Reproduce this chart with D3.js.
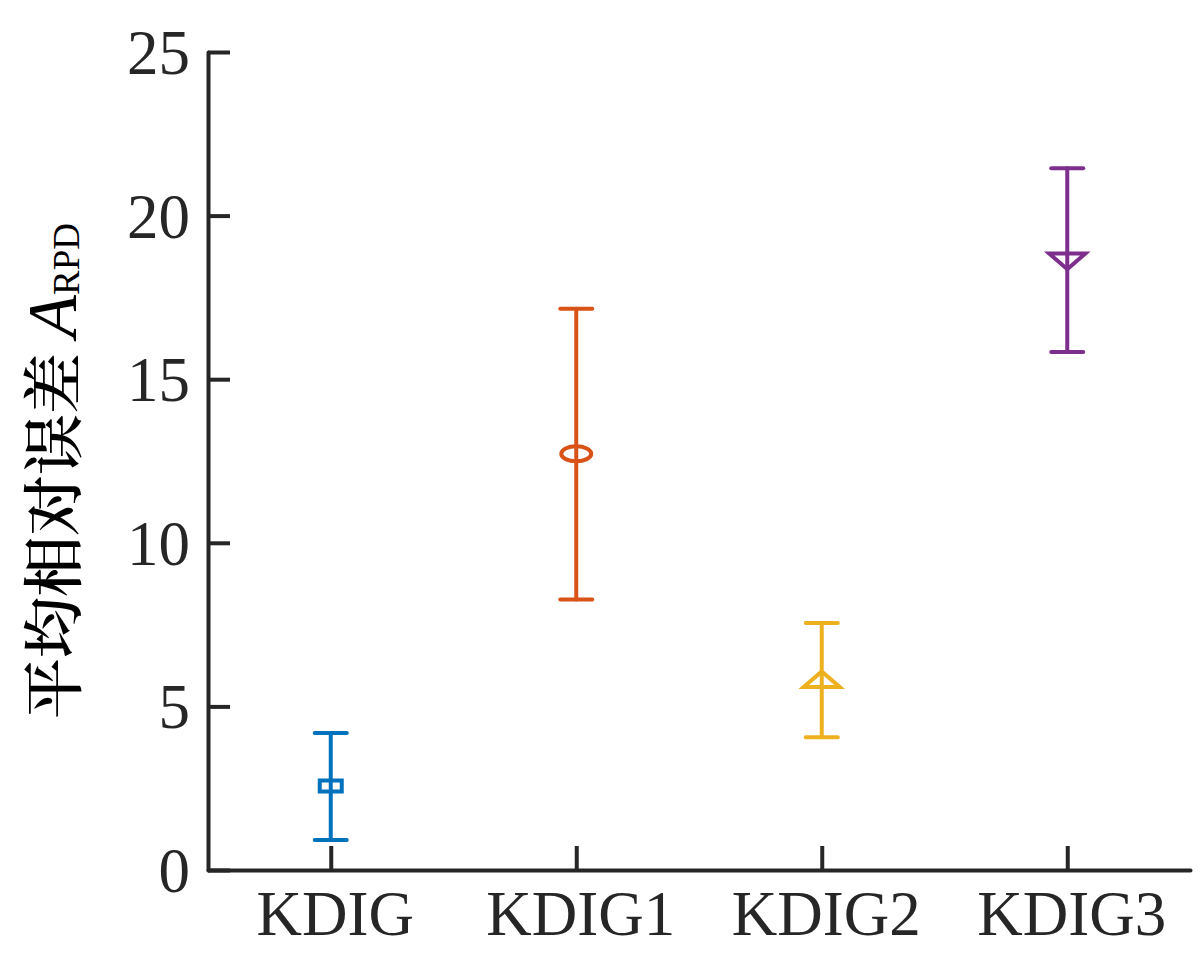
<!DOCTYPE html>
<html>
<head>
<meta charset="utf-8">
<script src="https://cdn.jsdelivr.net/npm/d3@7/dist/d3.min.js"></script>
<style>
    html, body { margin: 0; padding: 0; background: #fff; }
    svg { display: block; }
    .tick text { font-family: "Liberation Serif", "Times New Roman", serif; fill: #262626; }
</style>
</head>
<body>
<svg id="chart" width="1200" height="975"></svg>
<script>
// 数据
var categories = ["KDIG", "KDIG1", "KDIG2", "KDIG3"];
var means = [2.57, 12.72, 5.75, 18.68];
var upper = [4.19, 17.15, 7.55, 21.45];
var lower = [0.92, 8.27, 4.06, 15.83];
var yTicks = [0, 5, 10, 15, 20, 25];

var colors = ["#0072BD", "#D95319", "#EDB120", "#7E2F8E"];
var markers = ["square", "circle", "up", "down"];

var svg = d3.select("#chart");
var margin = {left: 208, right: 10, top: 52, bottom: 105};
var W = 1200, H = 975;
var plotW = 1190 - margin.left, plotH = H - margin.bottom - margin.top;

var x = d3.scaleLinear().domain([0.5, categories.length + 0.5]).range([margin.left, margin.left + plotW]);
var y = d3.scaleLinear().domain([0, 25]).range([margin.top + plotH, margin.top]);

var axisColor = "#262626";

// 坐标轴
var gx = svg.append("g").attr("transform", "translate(0," + y(0) + ")")
    .call(d3.axisBottom(x).tickValues(d3.range(1, categories.length + 1))
        .tickFormat(function (d) { return categories[d - 1]; })
        .tickSizeInner(-24).tickSizeOuter(0).tickPadding(20));
var gy = svg.append("g").attr("transform", "translate(" + x(0.5) + ",0)")
    .call(d3.axisLeft(y).tickValues(yTicks).tickSizeInner(-22).tickSizeOuter(0).tickPadding(18));

[gx, gy].forEach(function (g) {
    g.select(".domain").attr("stroke", axisColor).attr("stroke-width", 4).attr("stroke-linecap", "round");
    g.selectAll(".tick line").attr("stroke", axisColor).attr("stroke-width", 4);
    g.selectAll(".tick text").style("font-size", "63px").attr("fill", axisColor);
});
gx.selectAll(".tick text").attr("dy", "0.72em").attr("dx", 4);
gy.selectAll(".tick text").attr("dy", "0.34em");

// 误差棒
var capW = 32;
var groups = svg.append("g").selectAll("g.eb").data(categories).enter().append("g").attr("class", "eb")
    .attr("stroke", function (d, i) { return colors[i]; })
    .attr("stroke-width", 4).attr("fill", "none").attr("stroke-linecap", "round");

groups.append("line")
    .attr("x1", function (d, i) { return x(i + 1); }).attr("x2", function (d, i) { return x(i + 1); })
    .attr("y1", function (d, i) { return y(upper[i]); }).attr("y2", function (d, i) { return y(lower[i]); });
groups.append("line")
    .attr("x1", function (d, i) { return x(i + 1) - capW / 2; }).attr("x2", function (d, i) { return x(i + 1) + capW / 2; })
    .attr("y1", function (d, i) { return y(upper[i]); }).attr("y2", function (d, i) { return y(upper[i]); });
groups.append("line")
    .attr("x1", function (d, i) { return x(i + 1) - capW / 2; }).attr("x2", function (d, i) { return x(i + 1) + capW / 2; })
    .attr("y1", function (d, i) { return y(lower[i]); }).attr("y2", function (d, i) { return y(lower[i]); });

// 标记点
function markerPath(m) {
    if (m === "square") return d3.symbol(d3.symbolSquare, 22 * 22)();
    if (m === "circle") return d3.symbol(d3.symbolCircle, Math.PI * 15 * 15)();
    return d3.symbol(d3.symbolTriangle, Math.sqrt(3) / 4 * 36 * 36)();
}
groups.append("path")
    .attr("d", function (d, i) { return markerPath(markers[i]); })
    .attr("vector-effect", "non-scaling-stroke")
    .attr("transform", function (d, i) {
        var sy = markers[i] === "down" ? -0.5 : 0.5;
        return "translate(" + x(i + 1) + "," + y(means[i]) + ") scale(1," + sy + ")";
    });

// 纵轴标题
var label = svg.append("text")
    .attr("transform", "translate(76," + 471 + ") rotate(-90)")
    .attr("text-anchor", "middle")
    .attr("fill", "#000");
label.append("tspan").text("平均相对误差 ")
    .style("font-family", "'Noto Serif CJK SC', serif").style("font-weight", "600").style("font-size", "61px");
label.append("tspan").text("A").attr("font-style", "italic")
    .style("font-family", "'Liberation Serif', serif").style("font-style", "italic").style("font-size", "70px");
label.append("tspan").text("RPD").attr("dy", "0.08em")
    .style("font-family", "'Liberation Serif', serif").style("font-size", "37px");
</script>
</body>
</html>
